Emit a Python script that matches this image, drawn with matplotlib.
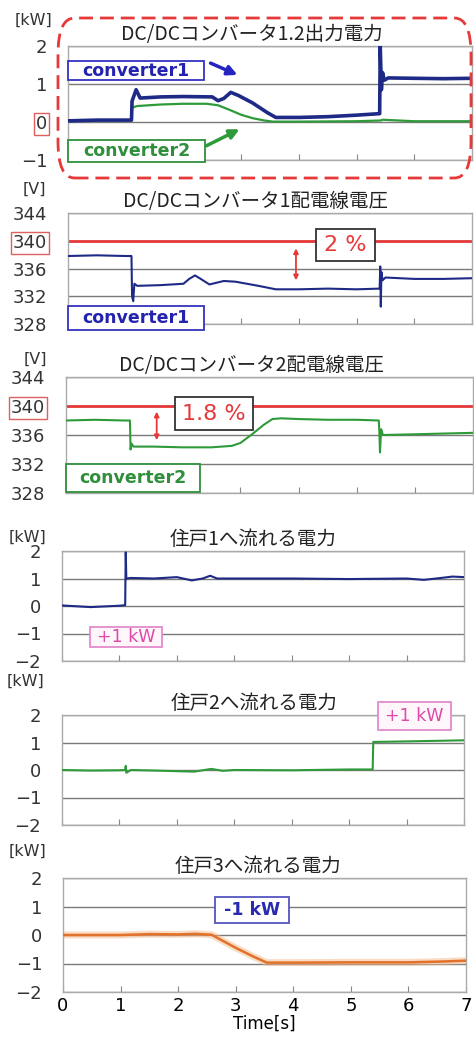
import matplotlib
matplotlib.use('Agg')
import matplotlib.pyplot as plt
from matplotlib.patches import FancyBboxPatch, Rectangle, FancyArrowPatch

plt.rcParams['font.family'] = ['DejaVu Sans', 'Noto Sans CJK JP']

W, H = 474, 1046

# --- data ---
# panel 1: converter output power [kW]
p1_t_conv1 = [0, 0.5, 1.10, 1.11, 1.18, 1.25, 1.6, 2.0, 2.5, 2.6, 2.7, 2.82, 2.95, 3.2, 3.45, 3.6,
              4.0, 4.5, 5.0, 5.40, 5.41, 5.43, 5.45, 5.48, 5.55, 6.0, 6.5, 7.0]
p1_v_conv1 = [0.03, 0.05, 0.05, 0.55, 0.85, 0.63, 0.66, 0.67, 0.66, 0.56, 0.62, 0.78, 0.7, 0.5, 0.25, 0.12,
              0.12, 0.14, 0.18, 0.22, 2.0, 0.85, 1.3, 1.1, 1.16, 1.15, 1.14, 1.15]
p1_t_conv2 = [0, 0.5, 1.10, 1.11, 1.2, 1.6, 2.0, 2.4, 2.6, 2.8, 3.0, 3.2, 3.4, 3.55, 4.0, 5.0, 5.42,
              5.45, 6.0, 7.0]
p1_v_conv2 = [0.03, 0.04, 0.04, 0.38, 0.42, 0.46, 0.48, 0.48, 0.44, 0.32, 0.19, 0.1, 0.04, 0.01, 0.01,
              0.02, 0.04, 0.06, 0.02, 0.02]

# panel 2: converter1 line voltage [V]
p2_t = [0, 0.5, 1.0, 1.10, 1.11, 1.13, 1.15, 1.2, 1.6, 2.0, 2.1, 2.2, 2.3, 2.45, 2.7, 2.9, 3.1, 3.3,
        3.6, 4.0, 4.5, 5.0, 5.40, 5.41, 5.42, 5.43, 5.45, 5.5, 6.0, 6.5, 7.0]
p2_v = [337.8, 337.9, 337.8, 337.8, 332.0, 331.3, 333.8, 333.5, 333.6, 333.8, 334.5, 335.0, 334.5,
        333.7, 334.2, 334.1, 333.8, 333.5, 333.0, 333.0, 333.1, 333.0, 333.1, 336.3, 330.5, 335.5,
        334.3, 334.7, 334.5, 334.5, 334.6]

# panel 3: converter2 line voltage [V]
p3_t = [0, 0.5, 1.0, 1.10, 1.11, 1.13, 1.16, 1.5, 2.0, 2.5, 2.85, 3.0, 3.2, 3.4, 3.55, 3.7, 4.0,
        4.5, 5.0, 5.38, 5.39, 5.40, 5.42, 5.45, 6.0, 6.5, 7.0]
p3_v = [338.0, 338.1, 338.0, 338.0, 334.0, 334.8, 334.4, 334.4, 334.3, 334.3, 334.5, 334.9, 336.1,
        337.4, 338.2, 338.3, 338.2, 338.1, 338.1, 338.0, 336.4, 333.6, 336.8, 336.0, 336.1, 336.2,
        336.3]

# panel 4-6: power to houses [kW]
p4_t = [0, 0.5, 1.0, 1.10, 1.11, 1.12, 1.2, 1.6, 2.0, 2.26, 2.45, 2.58, 2.7, 3.0, 4.0, 5.0, 6.0,
        6.3, 6.6, 6.8, 7.0]
p4_v = [0.02, -0.04, 0.01, 0.03, 1.95, 1.0, 1.02, 1.0, 1.05, 0.93, 1.0, 1.1, 1.0, 1.0, 1.0, 0.98,
        1.0, 0.95, 1.02, 1.07, 1.05]
p5_t = [0, 0.5, 1.0, 1.10, 1.11, 1.12, 1.2, 1.6, 2.3, 2.6, 2.8, 3.0, 4.0, 5.0, 5.41, 5.42, 6.0, 7.0]
p5_v = [0.0, -0.02, -0.01, 0.0, 0.15, -0.1, 0.0, -0.02, -0.06, 0.04, -0.03, 0.0, -0.01, 0.02, 0.02,
        1.02, 1.04, 1.08]
p6_t = [0, 1.0, 1.5, 2.0, 2.3, 2.58, 3.0, 3.3, 3.54, 4.0, 5.0, 6.0, 6.6, 7.0]
p6_v = [0.0, 0.0, 0.03, 0.02, 0.04, 0.01, -0.45, -0.75, -0.97, -0.97, -0.96, -0.96, -0.93, -0.9]

titles = ['DC/DCコンバータ1.2出力電力', 'DC/DCコンバータ1配電線電圧', 'DC/DCコンバータ2配電線電圧',
          '住戸1へ流れる電力', '住戸2へ流れる電力', '住戸3へ流れる電力']
units = ['[kW]', '[V]', '[V]', '[kW]', '[kW]', '[kW]']
kw_ticks = [-2, -1, 0, 1, 2]
kw_labels = ['\u22122', '\u22121', '0', '1', '2']
v_ticks = [328, 332, 336, 340, 344]
x_ticks = [0, 1, 2, 3, 4, 5, 6, 7]

BLUE = '#1e2a86'
GREEN = '#2f9a3a'
ORANGE = '#e2712a'
RED = '#e5393a'
GRID = '#7a7a7a'


def fx(x):
    return x / W


def fy(y):
    return 1 - y / H


def make_axes(fig, left, right, top, bottom):
    ax = fig.add_axes([fx(left), fy(bottom), (right - left) / W, (bottom - top) / H])
    ax.set_xlim(0, 7)
    ax.set_xticks(x_ticks)
    ax.tick_params(axis='x', direction='in', length=4, color='#888888', labelsize=13)
    ax.tick_params(axis='y', length=0, pad=15, labelsize=13, labelcolor='#333333')
    for s in ax.spines.values():
        s.set_color('#aaaaaa')
        s.set_linewidth(1)
    ax.grid(axis='y', color=GRID, linewidth=1)
    ax.set_axisbelow(True)
    return ax


def box_text(x0, x1, y0, y1, s, color, edge, size=12.5, weight='bold', face='white', lw=1.3):
    # box given in picture pixels, text centred in it
    fig.add_artist(Rectangle((fx(x0), fy(y1)), fx(x1) - fx(x0), fy(y0) - fy(y1),
                             transform=fig.transFigure, facecolor=face, edgecolor=edge,
                             linewidth=lw, zorder=9))
    fig.text(fx((x0 + x1) / 2), fy((y0 + y1) / 2), s, color=color, fontsize=size,
             fontweight=weight, ha='center', va='center', zorder=10)


def fig_arrow(x0, y0, x1, y1, color, lw=2.5, ms=14):
    fig.add_artist(FancyArrowPatch((fx(x0), fy(y0)), (fx(x1), fy(y1)), transform=fig.transFigure,
                                   arrowstyle='-|>', mutation_scale=ms, color=color,
                                   linewidth=lw, zorder=10))


fig = plt.figure(figsize=(W / 100, H / 100), dpi=100)

ax_rects = [(68, 472, 46, 160), (68, 472, 213, 324), (66, 473, 377, 493),
            (62, 464, 551, 661), (62, 464, 715, 825), (63, 466, 878, 992)]
title_x = [0.455, 0.465, 0.455, 0.475, 0.477, 0.484]
unit_pos = [(33, 20), (34, 189), (35, 359), (28, 537), (25, 681), (28, 851)]
axes = []
for i, (l, r, t, b) in enumerate(ax_rects):
    ax = make_axes(fig, l, r, t, b)
    ax.set_title(titles[i], fontsize=14, family=['Noto Sans CJK JP'], pad=4, color='#222222',
                 x=title_x[i])
    fig.text(fx(unit_pos[i][0]), fy(unit_pos[i][1]), units[i], fontsize=11.5, ha='center',
             va='center', color='#333333')
    axes.append(ax)

# panel 1
ax = axes[0]
ax.set_ylim(-1, 2)
ax.set_yticks([-1, 0, 1, 2])
ax.set_yticklabels(['\u22121', '0', '1', '2'])
ax.plot(p1_t_conv2, p1_v_conv2, color=GREEN, linewidth=1.6, zorder=3)
ax.plot(p1_t_conv1, p1_v_conv1, color=BLUE, linewidth=2.6, zorder=4)
ax.get_yticklabels()[1].set_bbox(dict(facecolor='none', edgecolor='#e06060', pad=1.5, linewidth=1))
fig.add_artist(FancyBboxPatch((fx(58), fy(178)), fx(471) - fx(58), fy(18) - fy(178),
                              boxstyle='round,pad=0,rounding_size=0.035', transform=fig.transFigure,
                              fill=False, edgecolor=RED, linewidth=2, linestyle=(0, (5, 2.5))))
box_text(68, 204, 61, 80, 'converter1', '#2323b0', '#3333c0')
box_text(68, 205, 140, 162, 'converter2', '#2f8f3a', '#2f8f3a')
fig_arrow(208, 62, 240, 76, '#2424c0')
fig_arrow(204, 147, 242, 128, '#2f9a3a')

# panel 2
ax = axes[1]
ax.set_ylim(328, 344)
ax.set_yticks(v_ticks)
ax.axhline(340, color=RED, linewidth=2, zorder=2)
ax.plot(p2_t, p2_v, color=BLUE, linewidth=1.5, zorder=3)
ax.get_yticklabels()[3].set_bbox(dict(facecolor='none', edgecolor='#e06060', pad=1.5, linewidth=1))
ax.annotate('', xy=(3.95, 333.9), xytext=(3.95, 339.3),
            arrowprops=dict(arrowstyle='<|-|>', color=RED, linewidth=1.3, mutation_scale=7))
box_text(316, 375, 229, 261, '2 %', RED, '#333333', size=16, weight='normal')
box_text(68, 204, 306, 330, 'converter1', '#2323b0', '#3333c0')

# panel 3
ax = axes[2]
ax.set_ylim(328, 344)
ax.set_yticks(v_ticks)
ax.axhline(340, color=RED, linewidth=2, zorder=2)
ax.plot(p3_t, p3_v, color=GREEN, linewidth=1.5, zorder=3)
ax.get_yticklabels()[3].set_bbox(dict(facecolor='none', edgecolor='#e06060', pad=1.5, linewidth=1))
ax.annotate('', xy=(1.56, 334.9), xytext=(1.56, 339.6),
            arrowprops=dict(arrowstyle='<|-|>', color=RED, linewidth=1.3, mutation_scale=7))
box_text(175, 253, 397, 430, '1.8 %', RED, '#333333', size=16, weight='normal')
box_text(66, 200, 464, 492, 'converter2', '#2f8f3a', '#2f8f3a')

# panels 4-6
for ax, t, v, c in [(axes[3], p4_t, p4_v, BLUE), (axes[4], p5_t, p5_v, GREEN)]:
    ax.set_ylim(-2, 2)
    ax.set_yticks(kw_ticks)
    ax.set_yticklabels(kw_labels)
    ax.plot(t, v, color=c, linewidth=1.5, zorder=3)

ax = axes[5]
ax.set_ylim(-2, 2)
ax.set_yticks(kw_ticks)
ax.set_yticklabels(kw_labels)
ax.plot(p6_t, p6_v, color='#f6b98a', linewidth=5, alpha=0.5, zorder=2)
ax.plot(p6_t, p6_v, color=ORANGE, linewidth=1.8, zorder=3)

for ax in axes[:5]:
    ax.tick_params(axis='x', labelbottom=False)
axes[5].set_xlabel('Time[s]', fontsize=12, labelpad=0)

box_text(90, 162, 627, 647, '+1 kW', '#dd4aa8', '#e38bcb', size=12.5, weight='normal', face='#fff6fb')
box_text(378, 451, 702, 730, '+1 kW', '#dd4aa8', '#e38bcb', size=12.5, weight='normal', face='#fff6fb')
box_text(215, 289, 897, 923, '-1 kW', '#2a2ab0', '#5555c0', size=12.5)

fig.savefig('out.png', dpi=100)
